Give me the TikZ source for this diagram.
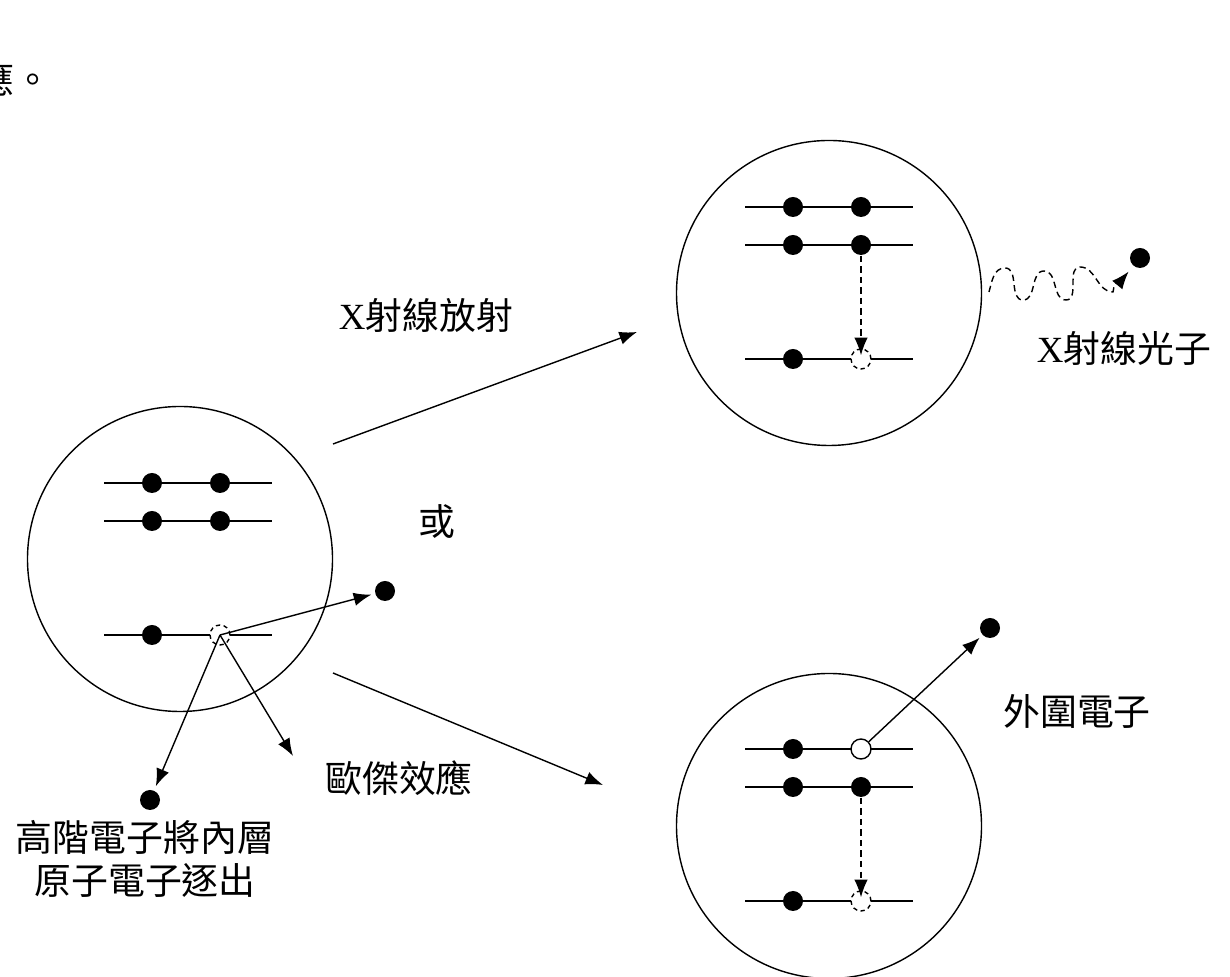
\documentclass[tikz,border=0pt]{standalone}
\usepackage{fontspec}
\setmainfont{Liberation Serif}
\newfontfamily\cjk{Noto Sans CJK TC}
\usetikzlibrary{arrows.meta}

\begin{document}
\begin{tikzpicture}[y=-1cm,
	atom/.style={circle, draw, inner sep=0, minimum size=3.05cm},
	electron/.style={circle, fill, inner sep=0, minimum size=2mm},
	hole/.style={circle, draw, fill=white, inner sep=0, minimum size=2mm},
	vacancy/.style={hole, dash pattern=on 1.2pt off 1pt},
	pointer/.style={arrows={-Latex[length=5pt, width=3.8pt]}},
	drop/.style={pointer, dash pattern=on 1.8pt off 1.2pt},
	cjktext/.style={font=\cjk\fontsize{10.5}{12}\selectfont, inner sep=0}]
	\useasboundingbox (0,0) rectangle (12.30,9.77);
	\node[cjktext, anchor=east] (tail) at (0.52,0.79) {應。};

	% ionised atom, inner shell emptied
	\node[atom] (A) at (1.80,5.59) {};
	\foreach \y in {4.83,5.21,6.35}
		\draw (1.04,\y) -- (2.72,\y);
	\node[electron] (a1) at (1.52,4.83) {};
	\node[electron] (a2) at (2.20,4.83) {};
	\node[electron] (a3) at (1.52,5.21) {};
	\node[electron] (a4) at (2.20,5.21) {};
	\node[electron] (a5) at (1.52,6.35) {};
	\node[vacancy] (a6) at (2.20,6.35) {};
	\node[electron] (e1) at (3.85,5.91) {};
	\node[electron] (e2) at (1.50,8.00) {};
	\coordinate (auger) at (2.93,7.56);
	\draw[pointer, shorten >=1pt] (a6.center) -- (e1);
	\draw[pointer, shorten >=1.2pt] (a6.center) -- (e2);
	\draw[pointer] (a6.center) -- (auger);
	\node[cjktext, align=center] (knock) at (1.45,8.59) {高階電子將內層\\原子電子逐出};
	\node[cjktext] (augerlbl) at (3.99,7.78) {歐傑效應};
	\node[cjktext] (orlbl) at (4.37,5.22) {或};

	% the two routes
	\coordinate (xfrom) at (3.33,4.44);
	\coordinate (xto) at (6.37,3.32);
	\coordinate (afrom) at (3.33,6.73);
	\coordinate (ato) at (6.03,7.85);
	\draw[pointer] (xfrom) -- (xto);
	\draw[pointer] (afrom) -- (ato);
	\node[cjktext] (xlbl) at (4.26,3.15) {{\rmfamily X}射線放射};

	% X-ray emission
	\node[atom] (B) at (8.29,2.93) {};
	\foreach \y in {2.07,2.45,3.59}
		\draw (7.45,\y) -- (9.13,\y);
	\node[electron] (b1) at (7.93,2.07) {};
	\node[electron] (b2) at (8.61,2.07) {};
	\node[electron] (b3) at (7.93,2.45) {};
	\node[electron] (b4) at (8.61,2.45) {};
	\node[electron] (b5) at (7.93,3.59) {};
	\node[vacancy] (b6) at (8.61,3.59) {};
	\draw[drop, shorten >=-2pt] (b4) -- (b6);
	\coordinate (w0) at (9.89,2.92);
	\node[electron] (ph) at (11.40,2.58) {};
	\draw[pointer, shorten >=2pt, dash pattern=on 1.8pt off 1.2pt] (w0)
		to[out=75, in=180] (10.05,2.68) to[out=0, in=180] (10.23,3.00)
		to[out=0, in=180] (10.44,2.71) to[out=0, in=180] (10.66,3.00)
		to[out=0, in=180] (10.80,2.67) to[out=0, in=180] (11.13,2.92)
		to[out=85, in=230] (ph);
	\node[cjktext] (phlbl) at (11.24,3.48) {{\rmfamily X}射線光子};

	% Auger emission
	\node[atom] (C) at (8.29,8.26) {};
	\foreach \y in {7.49,7.87,9.01}
		\draw (7.45,\y) -- (9.13,\y);
	\node[electron] (c1) at (7.93,7.49) {};
	\node[hole] (c2) at (8.61,7.49) {};
	\node[electron] (c3) at (7.93,7.87) {};
	\node[electron] (c4) at (8.61,7.87) {};
	\node[electron] (c5) at (7.93,9.01) {};
	\node[vacancy] (c6) at (8.61,9.01) {};
	\draw[drop, shorten >=-2pt] (c4) -- (c6);
	\node[electron] (ce) at (9.90,6.28) {};
	\draw[pointer, shorten >=1pt] (c2) -- (ce);
	\node[cjktext] (outlbl) at (10.77,7.11) {外圍電子};
\end{tikzpicture}
\end{document}
